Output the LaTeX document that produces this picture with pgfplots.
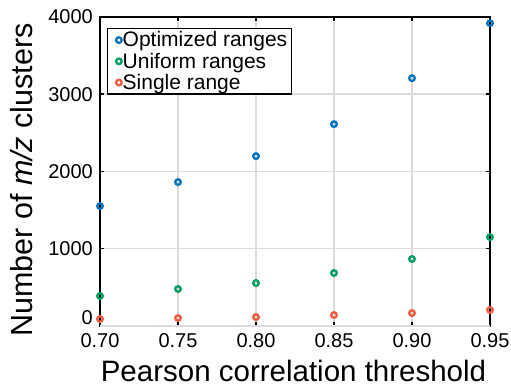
\documentclass[border=0pt]{standalone}
\usepackage{fontspec}
\setmainfont{Liberation Sans}
\usepackage{pgfplots}
\pgfplotsset{compat=1.18}
\definecolor{cblue}{RGB}{0,114,189}
\definecolor{cgreen}{RGB}{0,158,96}
\definecolor{cred}{RGB}{238,92,64}
\begin{document}
\begin{tikzpicture}
\begin{axis}[
  scale only axis, width=390pt, height=309pt,
  xmin=0.7, xmax=0.95, ymin=0, ymax=4000,
  xtick={0.70,0.75,0.80,0.85,0.90,0.95},
  xticklabels={0.70,0.75,0.80,0.85,0.90,0.95},
  ytick={1000,2000,3000,4000},
  extra y ticks={0},
  extra y tick style={yticklabel style={yshift=8pt}, major tick length=0pt},
  /pgf/number format/assume math mode=true,
  scaled y ticks=false,
  yticklabel style={/pgf/number format/1000 sep={}, anchor=east, inner sep=0pt, xshift=-7pt},
  xticklabel style={anchor=base, inner sep=0pt, yshift=-22pt},
  ticklabel style={font=\fontsize{20}{22}\selectfont},
  tick align=inside, major tick length=4pt,
  tick style={black, line width=1.5pt},
  axis line style={black, line width=2pt},
  grid=major, major grid style={gray!28, line width=1.5pt},
  xlabel={Pearson correlation threshold},
  ylabel={Number of \textit{m/z} clusters},
  every axis x label/.style={at={([shift={(-1.5pt,-55pt)}]axis description cs:0.5,0)}, anchor=base, inner sep=0pt, font=\fontsize{29.5}{32}\selectfont},
  every axis y label/.style={at={([shift={(-67pt,-8.5pt)}]axis description cs:0,0.5)}, rotate=90, anchor=base, inner sep=0pt, font=\fontsize{30.5}{32}\selectfont},
  clip=false,
  legend image code/.code={\path (0pt,0pt) -- (0pt,0pt); \draw[#1] plot coordinates {(7pt,0pt)};},
  legend style={at={(axis description cs:0,1)}, anchor=north west,
    xshift=7pt, yshift=-11pt,
    draw=black, line width=1.5pt, font=\fontsize{21}{21}\selectfont,
    inner xsep=3pt, inner ysep=2pt, row sep=2.5pt,
    nodes={inner sep=1pt},
    /tikz/every even column/.style={column sep=5pt},
    cells={anchor=west}},
  legend cell align=left,
]
\addplot[only marks, mark=o, mark size=2.8pt, cblue, line width=2.3pt, mark options={fill=white}]
  coordinates {(0.70,1552) (0.75,1863) (0.80,2199) (0.85,2613) (0.90,3208) (0.95,3920)};
\addplot[only marks, mark=o, mark size=2.8pt, cgreen, line width=2.3pt, mark options={fill=white}]
  coordinates {(0.70,388) (0.75,479) (0.80,556) (0.85,686) (0.90,867) (0.95,1151)};
\addplot[only marks, mark=o, mark size=2.8pt, cred, line width=2.3pt, mark options={fill=white}]
  coordinates {(0.70,90) (0.75,103) (0.80,116) (0.85,142) (0.90,168) (0.95,207)};
\legend{Optimized ranges\hspace{5pt}, Uniform ranges, Single range}
\end{axis}
\pgfresetboundingbox
\path (current axis.south west) ++(-100pt,-59pt) rectangle ([shift={(21pt,17pt)}]current axis.north east);
\end{tikzpicture}
\end{document}
